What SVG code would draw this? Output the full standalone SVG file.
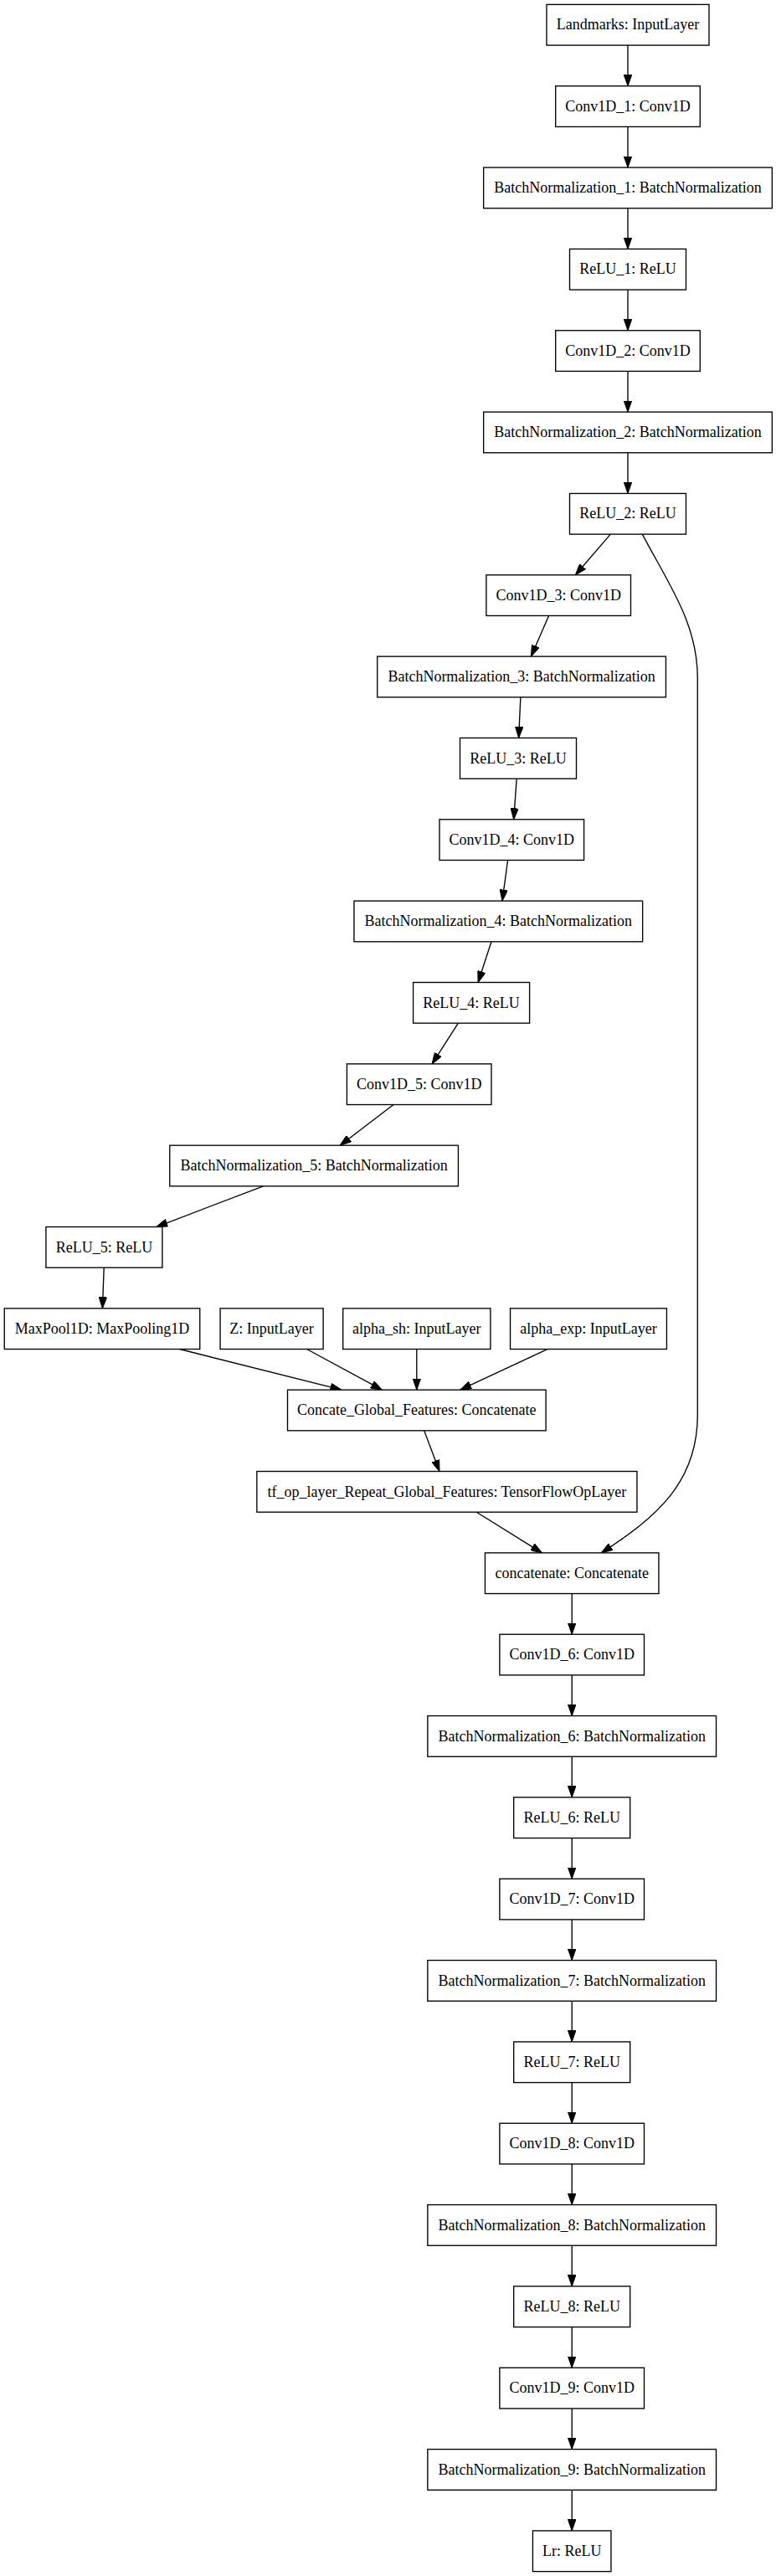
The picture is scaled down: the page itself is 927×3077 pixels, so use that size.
<svg xmlns="http://www.w3.org/2000/svg" width="927" height="3077" viewBox="0 0 927 3077">
<style>
.n rect{fill:#fff;stroke:#000;stroke-width:1.35}
.n text{font-family:"Liberation Serif","Times New Roman",serif;font-size:18px;fill:#000;text-anchor:middle}
#edges path{fill:none;stroke:#000;stroke-width:1.35;marker-end:url(#ah)}
</style>
<defs>
<marker id="ah" markerUnits="userSpaceOnUse" viewBox="0 0 13.5 9.46" markerWidth="13.5" markerHeight="9.46" refX="13.5" refY="4.73" orient="auto"><path d="M0,0 L13.5,4.73 L0,9.46 z" fill="#000" stroke="#000" stroke-width="1"/></marker>
</defs>
<rect x="0" y="0" width="927" height="3077" fill="#fff"/>
<g id="edges">
<path d="M750,54.08 L750,102.75"/>
<path d="M750,151.42 L750,200.09"/>
<path d="M750,248.76 L750,297.43"/>
<path d="M750,346.1 L750,394.77"/>
<path d="M750,443.44 L750,492.11"/>
<path d="M750,540.78 L750,589.45"/>
<path d="M729.3,638.12 L687.4,686.79"/>
<path d="M655.6,735.46 L634.4,784.13"/>
<path d="M621.9,832.8 L619.6,881.47"/>
<path d="M617.2,930.14 L613.7,978.81"/>
<path d="M606.6,1027.48 L600,1076.15"/>
<path d="M587,1124.82 L571.1,1173.49"/>
<path d="M547.4,1222.16 L516.1,1270.83"/>
<path d="M470,1319.5 L406.2,1368.17"/>
<path d="M314.5,1416.84 L186.8,1465.51"/>
<path d="M124.2,1514.18 L122.4,1562.85"/>
<path d="M214.6,1611.52 L407.9,1660.19"/>
<path d="M366.5,1611.52 L456.4,1660.19"/>
<path d="M497.8,1611.52 L497.8,1660.19"/>
<path d="M653.9,1611.52 L549.8,1660.19"/>
<path d="M506.7,1708.86 L525,1757.53"/>
<path d="M569.3,1806.2 L647.4,1854.87"/>
<path d="M767.3,638.12 C800,700 833.3,745 833.3,810 L833.3,1690 C833.3,1770 785,1812 718.3,1854.87"/>
<path d="M683.2,1903.54 L683.2,1952.21"/>
<path d="M683.2,2000.88 L683.2,2049.55"/>
<path d="M683.2,2098.22 L683.2,2146.89"/>
<path d="M683.2,2195.56 L683.2,2244.23"/>
<path d="M683.2,2292.9 L683.2,2341.57"/>
<path d="M683.2,2390.24 L683.2,2438.91"/>
<path d="M683.2,2487.58 L683.2,2536.25"/>
<path d="M683.2,2584.92 L683.2,2633.59"/>
<path d="M683.2,2682.26 L683.2,2730.93"/>
<path d="M683.2,2779.6 L683.2,2828.27"/>
<path d="M683.2,2876.94 L683.2,2925.61"/>
<path d="M683.2,2974.28 L683.2,3022.95"/>
</g>
<g id="Landmarks" class="n"><rect x="653" y="5.41" width="194" height="48.67"/><text x="750" y="35.44">Landmarks: InputLayer</text></g>
<g id="Conv1D_1" class="n"><rect x="663.7" y="102.75" width="172.6" height="48.67"/><text x="750" y="132.78">Conv1D_1: Conv1D</text></g>
<g id="BatchNormalization_1" class="n"><rect x="577.65" y="200.09" width="344.7" height="48.67"/><text x="750" y="230.12">BatchNormalization_1: BatchNormalization</text></g>
<g id="ReLU_1" class="n"><rect x="680.5" y="297.43" width="139" height="48.67"/><text x="750" y="327.46">ReLU_1: ReLU</text></g>
<g id="Conv1D_2" class="n"><rect x="663.7" y="394.77" width="172.6" height="48.67"/><text x="750" y="424.8">Conv1D_2: Conv1D</text></g>
<g id="BatchNormalization_2" class="n"><rect x="577.65" y="492.11" width="344.7" height="48.67"/><text x="750" y="522.14">BatchNormalization_2: BatchNormalization</text></g>
<g id="ReLU_2" class="n"><rect x="680.5" y="589.45" width="139" height="48.67"/><text x="750" y="619.48">ReLU_2: ReLU</text></g>
<g id="Conv1D_3" class="n"><rect x="580.9" y="686.79" width="172.6" height="48.67"/><text x="667.2" y="716.82">Conv1D_3: Conv1D</text></g>
<g id="BatchNormalization_3" class="n"><rect x="450.75" y="784.13" width="344.7" height="48.67"/><text x="623.1" y="814.16">BatchNormalization_3: BatchNormalization</text></g>
<g id="ReLU_3" class="n"><rect x="549.5" y="881.47" width="139" height="48.67"/><text x="619" y="911.5">ReLU_3: ReLU</text></g>
<g id="Conv1D_4" class="n"><rect x="525" y="978.81" width="172.6" height="48.67"/><text x="611.3" y="1008.84">Conv1D_4: Conv1D</text></g>
<g id="BatchNormalization_4" class="n"><rect x="422.95" y="1076.15" width="344.7" height="48.67"/><text x="595.3" y="1106.18">BatchNormalization_4: BatchNormalization</text></g>
<g id="ReLU_4" class="n"><rect x="493.6" y="1173.49" width="139" height="48.67"/><text x="563.1" y="1203.52">ReLU_4: ReLU</text></g>
<g id="Conv1D_5" class="n"><rect x="414.4" y="1270.83" width="172.6" height="48.67"/><text x="500.7" y="1300.86">Conv1D_5: Conv1D</text></g>
<g id="BatchNormalization_5" class="n"><rect x="202.75" y="1368.17" width="344.7" height="48.67"/><text x="375.1" y="1398.2">BatchNormalization_5: BatchNormalization</text></g>
<g id="ReLU_5" class="n"><rect x="54.9" y="1465.51" width="139" height="48.67"/><text x="124.4" y="1495.54">ReLU_5: ReLU</text></g>
<g id="MaxPool1D" class="n"><rect x="5.25" y="1562.85" width="233.5" height="48.67"/><text x="122" y="1592.88">MaxPool1D: MaxPooling1D</text></g>
<g id="Z" class="n"><rect x="263.1" y="1562.85" width="123" height="48.67"/><text x="324.6" y="1592.88">Z: InputLayer</text></g>
<g id="alpha_sh" class="n"><rect x="409.7" y="1562.85" width="176.2" height="48.67"/><text x="497.8" y="1592.88">alpha_sh: InputLayer</text></g>
<g id="alpha_exp" class="n"><rect x="609.55" y="1562.85" width="186.9" height="48.67"/><text x="703" y="1592.88">alpha_exp: InputLayer</text></g>
<g id="Concate_Global_Features" class="n"><rect x="343.5" y="1660.19" width="308.6" height="48.67"/><text x="497.8" y="1690.22">Concate_Global_Features: Concatenate</text></g>
<g id="tf_op_layer_Repeat_Global_Features" class="n"><rect x="306.85" y="1757.53" width="454.1" height="48.67"/><text x="533.9" y="1787.56">tf_op_layer_Repeat_Global_Features: TensorFlowOpLayer</text></g>
<g id="concatenate" class="n"><rect x="579.45" y="1854.87" width="207.5" height="48.67"/><text x="683.2" y="1884.9">concatenate: Concatenate</text></g>
<g id="Conv1D_6" class="n"><rect x="596.9" y="1952.21" width="172.6" height="48.67"/><text x="683.2" y="1982.24">Conv1D_6: Conv1D</text></g>
<g id="BatchNormalization_6" class="n"><rect x="510.85" y="2049.55" width="344.7" height="48.67"/><text x="683.2" y="2079.58">BatchNormalization_6: BatchNormalization</text></g>
<g id="ReLU_6" class="n"><rect x="613.7" y="2146.89" width="139" height="48.67"/><text x="683.2" y="2176.92">ReLU_6: ReLU</text></g>
<g id="Conv1D_7" class="n"><rect x="596.9" y="2244.23" width="172.6" height="48.67"/><text x="683.2" y="2274.26">Conv1D_7: Conv1D</text></g>
<g id="BatchNormalization_7" class="n"><rect x="510.85" y="2341.57" width="344.7" height="48.67"/><text x="683.2" y="2371.6">BatchNormalization_7: BatchNormalization</text></g>
<g id="ReLU_7" class="n"><rect x="613.7" y="2438.91" width="139" height="48.67"/><text x="683.2" y="2468.94">ReLU_7: ReLU</text></g>
<g id="Conv1D_8" class="n"><rect x="596.9" y="2536.25" width="172.6" height="48.67"/><text x="683.2" y="2566.28">Conv1D_8: Conv1D</text></g>
<g id="BatchNormalization_8" class="n"><rect x="510.85" y="2633.59" width="344.7" height="48.67"/><text x="683.2" y="2663.62">BatchNormalization_8: BatchNormalization</text></g>
<g id="ReLU_8" class="n"><rect x="613.7" y="2730.93" width="139" height="48.67"/><text x="683.2" y="2760.96">ReLU_8: ReLU</text></g>
<g id="Conv1D_9" class="n"><rect x="596.9" y="2828.27" width="172.6" height="48.67"/><text x="683.2" y="2858.3">Conv1D_9: Conv1D</text></g>
<g id="BatchNormalization_9" class="n"><rect x="510.85" y="2925.61" width="344.7" height="48.67"/><text x="683.2" y="2955.64">BatchNormalization_9: BatchNormalization</text></g>
<g id="Lr" class="n"><rect x="636.45" y="3022.95" width="93.5" height="48.67"/><text x="683.2" y="3052.98">Lr: ReLU</text></g>
</svg>
